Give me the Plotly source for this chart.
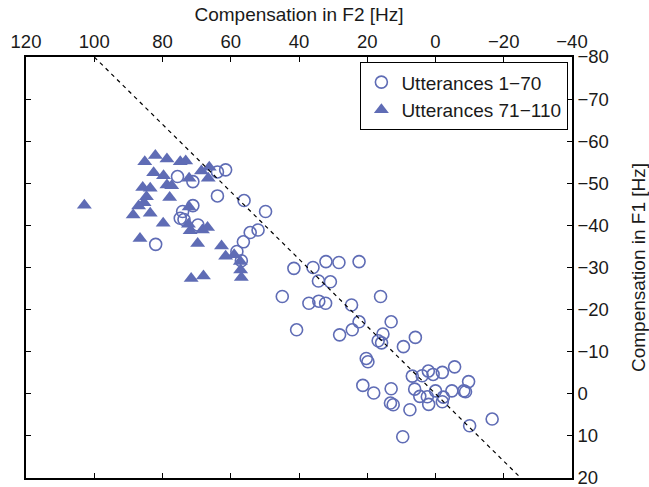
import plotly.graph_objects as go

# Utterances 1-70 (open circles): compensation in F2 and F1 [Hz]
f2_early = [75.6, 71.1, 63.9, 61.5, 63.9, 71.1, 74.1, 74.8, 73.7, 69.6,
            82.0, 56.1, 49.8, 52.0, 54.3, 56.3, 58.2, 56.9, 41.5, 35.9,
            32.1, 28.3, 22.4, 34.3, 30.8, 44.9, 37.1, 34.2, 32.2, 24.6,
            16.1, 22.4, 13.0, 40.7, 28.1, 24.4, 15.4, 16.8, 15.8, 9.4,
            5.9, 20.3, 19.8, 21.3, 18.1, 13.0, 13.2, 12.4, 7.5, 9.6,
            6.8, 3.9, 2.1, 0.7, -2.0, -5.6, -9.7, 6.1, 4.6, 2.4,
            0.0, 2.0, -2.0, -2.3, -4.8, -8.3, -8.8, -10.0, -16.6]
f1_early = [-51.6, -50.4, -52.7, -53.2, -47.0, -44.7, -43.3, -41.7, -41.4, -40.1,
            -35.5, -45.9, -43.3, -38.9, -38.3, -36.1, -33.8, -31.6, -29.8, -30.0,
            -31.4, -31.2, -31.4, -26.8, -26.6, -23.1, -21.5, -22.0, -21.5, -21.1,
            -23.1, -17.1, -17.1, -15.2, -14.0, -15.2, -14.2, -12.6, -12.1, -11.2,
            -13.4, -8.4, -7.6, -2.0, -0.2, -1.2, 2.2, 2.6, 3.8, 10.2,
            -4.2, -4.3, -5.4, -4.6, -5.1, -6.4, -2.9, -1.1, 0.6, 0.7,
            -0.7, 2.5, 1.9, 0.8, -0.7, -0.7, -0.5, 7.6, 6.0]

# Utterances 71-110 (filled triangles)
f2_late = [102.9, 82.1, 78.7, 85.2, 74.8, 73.2, 82.6, 79.7, 68.6, 66.3,
           66.6, 72.2, 78.7, 77.3, 85.8, 83.6, 84.7, 77.9, 85.4, 87.0,
           88.6, 83.6, 79.8, 72.2, 71.9, 68.3, 66.8, 86.6, 69.7, 62.7,
           61.5, 59.0, 57.2, 57.1, 56.9, 71.6, 68.0, 72.4]
f1_late = [-44.8, -56.6, -55.8, -55.1, -55.1, -55.3, -52.5, -51.8, -52.9, -53.8,
           -51.2, -51.2, -49.6, -49.4, -49.0, -48.8, -46.8, -46.6, -45.4, -44.6,
           -42.5, -42.9, -40.5, -44.4, -38.7, -38.9, -39.5, -36.9, -35.7, -35.1,
           -32.7, -33.0, -31.4, -29.4, -27.6, -27.4, -28.0, -40.3]

# Dashed reference line
ref_f2 = [100, -25]
ref_f1 = [-80, 20]

x_ticks = [120, 100, 80, 60, 40, 20, 0, -20, -40]
y_ticks = [-80, -70, -60, -50, -40, -30, -20, -10, 0, 10, 20]

color = "#5f6cb5"
font_family = "Liberation Sans, Arial, sans-serif"
text_color = "#1a1a1a"

fig = go.Figure()
fig.add_trace(go.Scatter(
    x=f2_early, y=f1_early, mode="markers", name="Utterances 1\u221270",
    marker=dict(symbol="circle-open", size=12, color=color, line=dict(width=1.6, color=color)),
))
fig.add_trace(go.Scatter(
    x=f2_late, y=f1_late, mode="markers", name="Utterances 71\u2212110",
    marker=dict(symbol="triangle-up", size=13, color=color, line=dict(width=0)),
))
fig.add_trace(go.Scatter(
    x=ref_f2, y=ref_f1, mode="lines", showlegend=False,
    line=dict(color="black", width=1.2, dash="4px,4px"),
))

axis_common = dict(
    showline=True, linecolor="black", linewidth=1.5, mirror="ticks",
    ticks="inside", ticklen=5, tickwidth=1, tickcolor="black",
    showgrid=False, zeroline=False, automargin=False,
    ticklabeloverflow="allow",
    tickfont=dict(size=18.5, color=text_color, family=font_family),
)

fig.update_layout(
    width=649, height=487,
    margin=dict(l=26, r=77, t=57, b=9),
    paper_bgcolor="white", plot_bgcolor="white",
    font=dict(family=font_family, color=text_color),
    xaxis=dict(
        side="top", range=[120, -40], tickmode="array", tickvals=x_ticks,
        title=dict(text="Compensation in F2 [Hz]", font=dict(size=19, color=text_color), standoff=4),
        **axis_common,
    ),
    yaxis=dict(
        side="right", range=[20, -80], tickmode="array", tickvals=y_ticks,
        title=dict(text="Compensation in F1 [Hz]", font=dict(size=19, color=text_color), standoff=24),
        **axis_common,
    ),
    legend=dict(
        x=0.993, y=0.988, xanchor="right", yanchor="top",
        bgcolor="white", bordercolor="black", borderwidth=1.2,
        font=dict(size=19, color=text_color, family=font_family),
        itemwidth=30,
    ),
    showlegend=True,
)

fig.write_html("out.html")
